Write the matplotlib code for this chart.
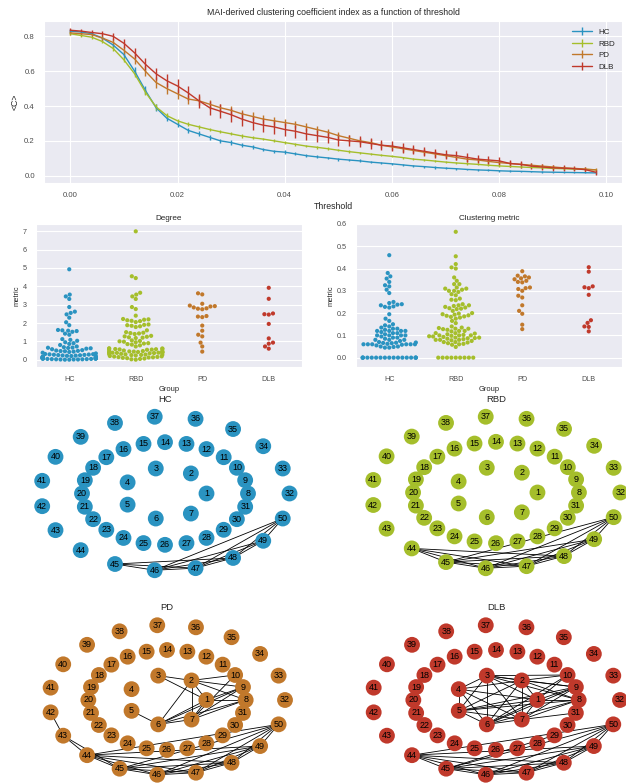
import numpy as np
import pandas as pd
import matplotlib
matplotlib.use("Agg")
import matplotlib.pyplot as plt  # noqa: E402
from matplotlib.collections import LineCollection  # noqa: E402
import seaborn as sns  # noqa: E402

sns.set_style("darkgrid")
plt.rcParams["font.family"] = ["Liberation Sans", "DejaVu Sans"]
plt.rcParams["grid.linewidth"] = 0.8

GROUPS = ["HC", "RBD", "PD", "DLB"]
COLORS = {"HC": "#2a93c1", "RBD": "#a5be2b", "PD": "#c1782b", "DLB": "#c0392b"}

# --- clustering index vs threshold ---
THRESH = [0.000, 0.002, 0.004, 0.006, 0.008, 0.010, 0.012, 0.014, 0.016, 0.018,
          0.020, 0.022, 0.024, 0.026, 0.028, 0.030, 0.032, 0.034, 0.036, 0.038,
          0.040, 0.042, 0.044, 0.046, 0.048, 0.050, 0.052, 0.054, 0.056, 0.058,
          0.060, 0.062, 0.064, 0.066, 0.068, 0.070, 0.072, 0.074, 0.076, 0.078,
          0.080, 0.082, 0.084, 0.086, 0.088, 0.090, 0.092, 0.094, 0.096, 0.098]

HC_C = [0.830, 0.825, 0.815, 0.790, 0.750, 0.695, 0.600, 0.490, 0.390, 0.330,
        0.295, 0.260, 0.240, 0.220, 0.200, 0.190, 0.175, 0.165, 0.150, 0.140,
        0.135, 0.125, 0.115, 0.108, 0.102, 0.095, 0.090, 0.085, 0.078, 0.073,
        0.068, 0.062, 0.056, 0.052, 0.047, 0.043, 0.040, 0.036, 0.033, 0.031,
        0.028, 0.026, 0.025, 0.023, 0.021, 0.020, 0.019, 0.018, 0.017, 0.016]
RBD_C = [0.815, 0.805, 0.795, 0.770, 0.730, 0.665, 0.585, 0.480, 0.395, 0.345,
         0.315, 0.295, 0.280, 0.265, 0.252, 0.240, 0.228, 0.218, 0.210, 0.200,
         0.190, 0.180, 0.170, 0.163, 0.155, 0.146, 0.138, 0.131, 0.124, 0.117,
         0.111, 0.104, 0.095, 0.090, 0.084, 0.078, 0.073, 0.069, 0.065, 0.060,
         0.056, 0.053, 0.050, 0.047, 0.045, 0.042, 0.040, 0.038, 0.036, 0.034]
PD_C = [0.820, 0.815, 0.810, 0.790, 0.765, 0.720, 0.670, 0.600, 0.535, 0.500,
        0.470, 0.440, 0.430, 0.410, 0.390, 0.375, 0.355, 0.340, 0.325, 0.315,
        0.305, 0.295, 0.280, 0.265, 0.250, 0.230, 0.215, 0.200, 0.190, 0.175,
        0.165, 0.155, 0.145, 0.135, 0.125, 0.115, 0.105, 0.095, 0.090, 0.082,
        0.075, 0.070, 0.065, 0.060, 0.055, 0.050, 0.045, 0.042, 0.038, 0.033]
DLB_C = [0.835, 0.830, 0.822, 0.815, 0.800, 0.760, 0.705, 0.640, 0.585, 0.545,
         0.515, 0.475, 0.430, 0.390, 0.370, 0.350, 0.325, 0.305, 0.290, 0.280,
         0.265, 0.255, 0.240, 0.230, 0.220, 0.205, 0.200, 0.195, 0.185, 0.175,
         0.170, 0.160, 0.150, 0.140, 0.130, 0.120, 0.115, 0.105, 0.095, 0.090,
         0.085, 0.070, 0.065, 0.055, 0.050, 0.045, 0.043, 0.040, 0.035, 0.020]

HC_ERR = [0.010, 0.010, 0.010, 0.012, 0.015, 0.020, 0.022, 0.022, 0.020, 0.018,
          0.016, 0.015, 0.014, 0.013, 0.012, 0.012, 0.011, 0.011, 0.010, 0.010,
          0.010, 0.009, 0.009, 0.009, 0.008, 0.008, 0.008, 0.008, 0.007, 0.007,
          0.007, 0.007, 0.006, 0.006, 0.006, 0.006, 0.006, 0.005, 0.005, 0.005,
          0.005, 0.005, 0.004, 0.004, 0.004, 0.004, 0.004, 0.004, 0.004, 0.004]
RBD_ERR = [0.008, 0.008, 0.009, 0.010, 0.012, 0.015, 0.017, 0.018, 0.016, 0.014,
           0.012, 0.011, 0.010, 0.010, 0.009, 0.009, 0.009, 0.008, 0.008, 0.008,
           0.008, 0.008, 0.007, 0.007, 0.007, 0.007, 0.007, 0.007, 0.006, 0.006,
           0.006, 0.006, 0.006, 0.006, 0.005, 0.005, 0.005, 0.005, 0.005, 0.005,
           0.005, 0.004, 0.004, 0.004, 0.004, 0.004, 0.004, 0.004, 0.004, 0.004]
PD_ERR = [0.012, 0.012, 0.013, 0.015, 0.020, 0.025, 0.028, 0.030, 0.030, 0.030,
          0.028, 0.026, 0.025, 0.025, 0.024, 0.024, 0.023, 0.023, 0.022, 0.022,
          0.022, 0.021, 0.021, 0.020, 0.020, 0.020, 0.019, 0.019, 0.018, 0.018,
          0.018, 0.017, 0.017, 0.016, 0.016, 0.015, 0.015, 0.014, 0.014, 0.013,
          0.013, 0.012, 0.012, 0.011, 0.011, 0.010, 0.010, 0.010, 0.009, 0.009]
DLB_ERR = [0.012, 0.012, 0.013, 0.015, 0.020, 0.025, 0.030, 0.033, 0.035, 0.037,
           0.038, 0.038, 0.040, 0.040, 0.040, 0.040, 0.040, 0.040, 0.040, 0.040,
           0.038, 0.037, 0.036, 0.035, 0.034, 0.033, 0.032, 0.031, 0.030, 0.030,
           0.029, 0.028, 0.027, 0.027, 0.026, 0.025, 0.024, 0.024, 0.023, 0.022,
           0.021, 0.020, 0.020, 0.019, 0.018, 0.017, 0.016, 0.015, 0.015, 0.015]

# --- per-subject metrics (swarm plots) ---
HC_DEG = [4.93, 3.55, 3.45, 3.31, 2.87, 2.62, 2.55, 2.47, 2.29, 2.04, 1.88,
          1.62, 1.60, 1.58, 1.56, 1.52, 1.42, 1.36, 1.12, 1.08, 1.03, 0.95, 0.90, 0.86, 0.80,
          0.72, 0.68, 0.66, 0.65, 0.64, 0.62, 0.60, 0.57, 0.52, 0.50, 0.48, 0.47, 0.46, 0.44, 0.42,
          0.38, 0.34, 0.31, 0.30, 0.29, 0.28, 0.27, 0.26, 0.25, 0.24, 0.23, 0.22, 0.21, 0.20,
          0.18, 0.16, 0.15, 0.14, 0.13, 0.12, 0.12, 0.11, 0.10, 0.10, 0.09, 0.08, 0.08, 0.07,
          0.06, 0.06, 0.05, 0.05, 0.04, 0.04, 0.03, 0.03, 0.02, 0.02, 0.01, 0.01, 0.01, 0.0, 0.0]
RBD_DEG = [7.0, 4.55, 4.45, 3.65, 3.55, 3.45, 3.31, 2.87, 2.76, 2.4,
           2.22, 2.2, 2.18, 2.15, 2.12, 2.1, 2.05, 1.92, 1.9, 1.88, 1.85, 1.82, 1.78, 1.6,
           1.5, 1.47, 1.45, 1.43, 1.4, 1.3, 1.27, 1.25, 1.22, 1.2, 1.18, 1.05, 1.02, 1.0, 0.98, 0.95,
           0.9, 0.88, 0.85, 0.82, 0.78, 0.72, 0.62, 0.61, 0.6, 0.59, 0.58, 0.57, 0.56, 0.55, 0.54, 0.52,
           0.5, 0.48, 0.47, 0.45, 0.44, 0.42, 0.41, 0.4, 0.4, 0.4, 0.39, 0.38, 0.38, 0.37, 0.36, 0.35,
           0.32, 0.3, 0.29, 0.28, 0.27, 0.26, 0.25, 0.23, 0.2, 0.18, 0.17, 0.15, 0.14, 0.13, 0.12,
           0.1, 0.08, 0.06, 0.04, 0.02, 0.0]
PD_DEG = [3.62, 3.56, 3.05, 2.95, 2.92, 2.9, 2.85, 2.8, 2.78, 2.75,
          2.38, 2.35, 2.32, 1.86, 1.58, 1.36, 1.27, 0.93, 0.72, 0.44]
DLB_DEG = [3.92, 3.32, 2.52, 2.48, 2.46, 1.95, 1.16, 0.93, 0.87, 0.72, 0.6]

HC_CLU = [0.0] * 17 + [
    0.46, 0.38, 0.365, 0.355, 0.34, 0.325, 0.32, 0.305, 0.29,
    0.25, 0.245, 0.24, 0.238, 0.235, 0.23, 0.228, 0.225, 0.195, 0.175, 0.165,
    0.15, 0.145, 0.14, 0.135, 0.13, 0.13, 0.125, 0.12, 0.12, 0.12, 0.12, 0.115,
    0.11, 0.11, 0.105, 0.1, 0.1, 0.1, 0.1, 0.095, 0.09, 0.09, 0.085, 0.08, 0.08, 0.08,
    0.075, 0.07, 0.068, 0.067, 0.066, 0.065, 0.062, 0.06, 0.06, 0.06, 0.06, 0.06, 0.06,
    0.058, 0.055, 0.05, 0.05, 0.048, 0.045, 0.045]
RBD_CLU = [0.0] * 9 + [
    0.565, 0.455, 0.42, 0.405, 0.40, 0.36, 0.345, 0.33, 0.33, 0.315, 0.31, 0.31, 0.305, 0.30, 0.30, 0.295,
    0.285, 0.28, 0.265, 0.26, 0.258, 0.24, 0.235, 0.235, 0.232, 0.228, 0.225, 0.222, 0.22, 0.218, 0.21,
    0.2, 0.198, 0.195, 0.193, 0.19, 0.188, 0.185, 0.183, 0.18, 0.175, 0.165, 0.155, 0.14,
    0.135, 0.133, 0.13, 0.13, 0.128, 0.125, 0.12, 0.12, 0.118, 0.11, 0.11, 0.108, 0.105, 0.102,
    0.1, 0.1, 0.1, 0.098, 0.096, 0.095, 0.093, 0.09, 0.09, 0.088, 0.087, 0.085, 0.083, 0.08, 0.08, 0.08,
    0.078, 0.075, 0.07, 0.07, 0.068, 0.065, 0.062, 0.06, 0.058, 0.048]
PD_CLU = [0.388, 0.368, 0.365, 0.36, 0.356, 0.352, 0.345, 0.34, 0.338, 0.315,
          0.312, 0.308, 0.3, 0.278, 0.27, 0.235, 0.21, 0.197, 0.148, 0.128]
DLB_CLU = [0.406, 0.386, 0.32, 0.316, 0.312, 0.282, 0.168, 0.156, 0.14, 0.138, 0.118]

# --- networks: shells of nodes and edge lists ---
SHELLS = [list(range(1, 8)), list(range(8, 32)), list(range(32, 51))]


def clique(nodes, skip=()):
    return [(a, b) for i, a in enumerate(nodes) for b in nodes[i + 1:] if (a, b) not in skip]


HC_EDGES = clique([45, 46, 47, 48, 49, 50], skip=[(45, 49), (45, 50)])
RBD_EDGES = clique([44, 45, 46, 47, 48, 49, 50], skip=[(44, 49), (44, 50)])
PD_EDGES = (clique([44, 45, 46, 47, 48, 49, 50]) + [(42, 43), (43, 44), (43, 45)] +
            [(3, 2), (3, 1), (2, 1), (2, 7), (2, 6), (2, 10), (2, 9), (2, 8), (1, 8), (1, 9),
             (1, 6), (1, 7), (5, 6), (6, 7), (6, 8), (6, 9), (7, 8), (7, 9), (7, 10)])
DLB_EDGES = (clique([44, 45, 46, 47, 48, 49, 50]) + clique([1, 2, 3, 4, 5, 6, 7]) +
             [(1, 8), (1, 9), (1, 10), (2, 8), (2, 9), (2, 10), (3, 8), (3, 9), (3, 10),
              (5, 8), (5, 9), (6, 8), (6, 9), (6, 10), (7, 8), (7, 9), (7, 31), (45, 29)])

# panel centre / half-extent in figure pixels, title row
NET_PANELS = [("HC", HC_EDGES, 165, 493.5, 124.5, 77, 400),
              ("RBD", RBD_EDGES, 496, 492.5, 124.4, 76, 400),
              ("PD", PD_EDGES, 167, 700, 118, 75, 607),
              ("DLB", DLB_EDGES, 496, 700, 124, 75, 607)]

FW, FH = 626, 783
fig = plt.figure(figsize=(FW / 100, FH / 100), dpi=100)

# top: clustering index vs threshold
ax = fig.add_axes([44 / FW, 1 - 183 / FH, 578 / FW, 162 / FH])
for g, vals, err in [("HC", HC_C, HC_ERR), ("RBD", RBD_C, RBD_ERR),
                     ("PD", PD_C, PD_ERR), ("DLB", DLB_C, DLB_ERR)]:
    ax.errorbar(THRESH, vals, yerr=err, color=COLORS[g], label=g, lw=1.0, elinewidth=1.0)
ax.set_xticks([0, 0.02, 0.04, 0.06, 0.08, 0.10])
ax.set_xticklabels(["0.00", "0.02", "0.04", "0.06", "0.08", "0.10"])
ax.set_yticks([0, 0.2, 0.4, 0.6, 0.8])
ax.set_ylim(-0.042, 0.888)
ax.tick_params(labelsize=5.6, pad=3, labelcolor=".3")
ax.set_xlabel("Threshold", fontsize=6.3, labelpad=2)
ax.set_ylabel("<C>", fontsize=6.3, labelpad=3)
ax.set_title("MAI-derived clustering coefficient index as a function of threshold",
             fontsize=6.3, pad=4)
ax.legend(loc="upper right", fontsize=5.8, handlelength=2.4, frameon=False)

# middle: swarm plots
deg = pd.DataFrame({"Group": ["HC"] * len(HC_DEG) + ["RBD"] * len(RBD_DEG) +
                    ["PD"] * len(PD_DEG) + ["DLB"] * len(DLB_DEG),
                    "metric": HC_DEG + RBD_DEG + PD_DEG + DLB_DEG})
clu = pd.DataFrame({"Group": ["HC"] * len(HC_CLU) + ["RBD"] * len(RBD_CLU) +
                    ["PD"] * len(PD_CLU) + ["DLB"] * len(DLB_CLU),
                    "metric": HC_CLU + RBD_CLU + PD_CLU + DLB_CLU})
for left, df, title, ylim, yt in [(36, deg, "Degree", (-0.4, 7.4), range(8)),
                                  (356, clu, "Clustering metric", (-0.042, 0.6),
                                   [0, 0.1, 0.2, 0.3, 0.4, 0.5, 0.6])]:
    sax = fig.add_axes([left / FW, 1 - 367 / FH, 266 / FW, 143 / FH])
    sns.swarmplot(data=df, x="Group", y="metric", hue="Group", order=GROUPS,
                  hue_order=GROUPS, palette=COLORS, size=3.0, legend=False, ax=sax)
    sax.set_ylim(*ylim)
    sax.set_yticks(list(yt))
    if title != "Degree":
        sax.set_yticklabels([f"{v:.1f}" for v in yt])
    sax.tick_params(labelsize=5.2, pad=3, labelcolor=".3")
    sax.set_title(title, fontsize=5.9, pad=3)
    sax.set_xlabel("Group", fontsize=5.4, labelpad=2)
    sax.set_ylabel("metric", fontsize=5.4, labelpad=2)

# bottom: networks in shell layout
pos = {}
for r, nodes in enumerate(SHELLS, start=1):
    th = np.linspace(0, 2 * np.pi, len(nodes), endpoint=False)
    for n, t in zip(nodes, th):
        pos[n] = (r / 3 * np.cos(t), r / 3 * np.sin(t))

W, H = 320, 200
for g, edges, cx, cy, rx, ry, ty in NET_PANELS:
    nax = fig.add_axes([(cx - W / 2) / FW, 1 - (cy + H / 2) / FH, W / FW, H / FH])
    nax.set_xlim(-W / 2, W / 2)
    nax.set_ylim(-H / 2, H / 2)
    nax.axis("off")
    xy = {n: (p[0] * rx, p[1] * ry) for n, p in pos.items()}
    segs = [[xy[a], xy[b]] for a, b in edges]
    nax.add_collection(LineCollection(segs, colors="black", linewidths=0.6, zorder=1))
    nodes = sorted(xy)
    nax.scatter([xy[n][0] for n in nodes], [xy[n][1] for n in nodes], s=130,
                color=COLORS[g], edgecolors="none", zorder=2, clip_on=False)
    for n in nodes:
        nax.text(xy[n][0], xy[n][1], str(n), ha="center", va="center",
                 fontsize=6.5, color="black", zorder=3)
    fig.text(cx / FW, 1 - ty / FH, g, ha="center", va="center", fontsize=6.8, color=".15")

fig.savefig("out.png", dpi=100, facecolor="white")
